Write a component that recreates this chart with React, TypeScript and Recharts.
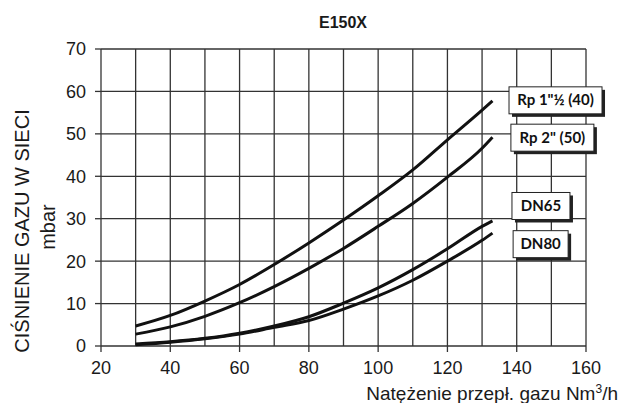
import React from 'react';
import { LineChart, Line, XAxis, YAxis, CartesianGrid, ReferenceDot, Label } from 'recharts';

// przepływ gazu Nm3/h
const flow = [30, 40, 50, 60, 70, 80, 90, 100, 110, 120, 130, 133];
// spadek ciśnienia mbar
const rp40 = [4.7, 7.2, 10.6, 14.5, 19.2, 24.3, 29.7, 35.4, 41.5, 48.6, 55.6, 57.8];
const rp50 = [2.8, 4.5, 7.0, 10.2, 14.0, 18.3, 23.0, 28.2, 33.6, 39.8, 46.6, 49.2];
const dn65 = [0.5, 1.0, 1.8, 3.0, 4.7, 6.9, 10.1, 13.7, 18.0, 22.9, 28.2, 29.5];
const dn80 = [0.3, 0.9, 1.7, 2.8, 4.4, 6.0, 8.7, 11.8, 15.5, 20.0, 24.9, 26.6];

const seriesKeys = ['rp40', 'rp50', 'dn65', 'dn80'];
const seriesNames = ['Rp 1"½ (40)', 'Rp 2" (50)', 'DN65', 'DN80'];

const xTicks = [20, 40, 60, 80, 100, 120, 140, 160];
const yTicks = [0, 10, 20, 30, 40, 50, 60, 70];
const xGrid = [20, 30, 40, 50, 60, 70, 80, 90, 100, 110, 120, 130, 140, 150, 160];
const yGrid = [0, 5, 10, 15, 20, 25, 30, 35, 40, 45, 50, 55, 60, 65, 70];

// where the name boxes sit (in chart units) and how wide they are
const tagX = [151.2, 150.3, 147.0, 146.9];
const tagY = [57.9, 49.1, 33.0, 24.0];
const tagW = [93, 83, 58, 55];

const data = flow.map((f, i) => ({
  flow: f,
  rp40: rp40[i],
  rp50: rp50[i],
  dn65: dn65[i],
  dn80: dn80[i],
}));

const INK = '#1a1a1a';
const GRID = '#333';

const tagShape = (i: number) => (p: any) => {
  const w = tagW[i];
  const h = 27;
  const x = p.cx - w / 2;
  const y = p.cy - h / 2;
  return (
    <g>
      <rect x={x + 3} y={y + 3} width={w} height={h} fill="#222" />
      <rect x={x} y={y} width={w} height={h} fill="#fff" stroke="#222" strokeWidth={1} />
      <text
        x={p.cx}
        y={p.cy + 5}
        textAnchor="middle"
        fontFamily="Lato, 'Open Sans', sans-serif"
        fontWeight="bold"
        fontSize={15}
        fill="#111"
      >
        {seriesNames[i]}
      </text>
    </g>
  );
};

const YTitle = () => (
  <g fontFamily="'Liberation Sans', Arial, sans-serif" fontSize={20} fill={INK}>
    <text x={29} y={231} transform="rotate(-90 29 231)" textAnchor="middle">
      CIŚNIENIE GAZU W SIECI
    </text>
    <text x={55} y={227} transform="rotate(-90 55 227)" textAnchor="middle">
      mbar
    </text>
  </g>
);

const XTitle = () => (
  <text
    x={618}
    y={400}
    textAnchor="end"
    fontFamily="'Liberation Sans', Arial, sans-serif"
    fontSize={19}
    fill={INK}
  >
    <tspan>Natężenie przepł. gazu Nm</tspan>
    <tspan dy={-7} fontSize={12}>3</tspan>
    <tspan dy={7}>/h</tspan>
  </text>
);

const App = () => {
  return (
    <div
      style={{
        position: 'absolute',
        left: 0,
        top: 0,
        width: 622,
        height: 403,
        background: '#fff',
        fontFamily: "'Liberation Sans', Arial, sans-serif",
      }}
    >
      <div
        style={{
          position: 'absolute',
          left: 243,
          width: 200,
          top: 14,
          textAlign: 'center',
          fontWeight: 'bold',
          fontSize: 16,
          color: INK,
        }}
      >
        E150X
      </div>
      <LineChart width={622} height={403} data={data} margin={{ top: 49, right: 36, bottom: 0, left: 0 }}>
        <CartesianGrid
          stroke={GRID}
          strokeWidth={1.3}
          horizontalValues={yGrid}
          verticalValues={xGrid}
          syncWithTicks={false}
        />
        <XAxis
          dataKey="flow"
          type="number"
          domain={[20, 160]}
          ticks={xTicks}
          height={57}
          axisLine={false}
          tickLine={{ stroke: GRID, strokeWidth: 1.3 }}
          tickSize={6}
          tickMargin={9}
          tick={{ fontSize: 18, fill: INK }}
        >
          <Label content={<XTitle />} />
        </XAxis>
        <YAxis
          type="number"
          domain={[0, 70]}
          ticks={yTicks}
          width={101}
          axisLine={false}
          tickLine={{ stroke: GRID, strokeWidth: 1.3 }}
          tickSize={6}
          tickMargin={9}
          tick={{ fontSize: 18, fill: INK }}
        >
          <Label content={<YTitle />} />
        </YAxis>
        {seriesKeys.map((k) => (
          <Line
            key={k}
            dataKey={k}
            type="monotone"
            stroke="#111"
            strokeWidth={3}
            dot={false}
            isAnimationActive={false}
          />
        ))}
        {seriesKeys.map((k, i) => (
          <ReferenceDot key={'tag-' + k} x={tagX[i]} y={tagY[i]} r={0} shape={tagShape(i)} />
        ))}
      </LineChart>
    </div>
  );
};

export default App;
